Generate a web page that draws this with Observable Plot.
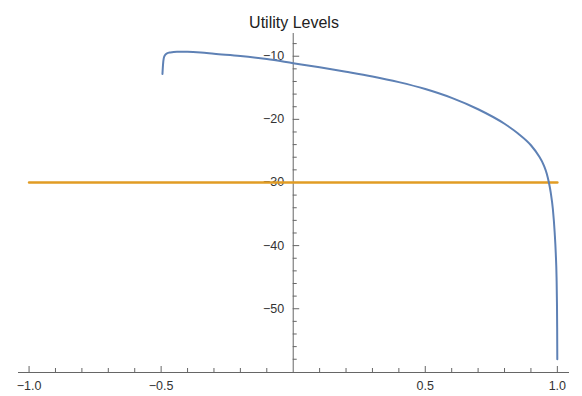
<!DOCTYPE html>
<html>
<head>
<meta charset="utf-8">
<script src="https://cdn.jsdelivr.net/npm/d3@7"></script>
<script src="https://cdn.jsdelivr.net/npm/@observablehq/plot@0.6"></script>
<style>
  html, body { margin: 0; padding: 0; background: #fff; }
  #chart svg { display: block; }
</style>
</head>
<body>
<div id="chart"></div>
<script>
// Utility curve
const curveX = [-0.495, -0.493, -0.49, -0.485, -0.478, -0.465, -0.44, -0.4, -0.35, -0.3, -0.2, -0.1, 0, 0.1, 0.2, 0.3, 0.4, 0.5, 0.6, 0.7, 0.8, 0.85, 0.9, 0.93, 0.95, 0.96, 0.968, 0.975, 0.983, 0.99, 0.994, 0.997, 0.9985, 0.9993, 0.9998];
const curveY = [-12.8, -11.4, -10.3, -9.8, -9.55, -9.4, -9.3, -9.3, -9.4, -9.6, -9.95, -10.45, -11.1, -11.75, -12.45, -13.2, -14.1, -15.2, -16.6, -18.4, -20.7, -22.2, -24.1, -25.8, -27.4, -28.6, -30.0, -31.6, -34.2, -38.0, -41.2, -45.0, -49.0, -53.0, -58.0];

// Constant level line
const levelX = [-1, 1];
const levelY = [-30, -30];

// Axis ticks and labels
const xMajor = [-1, -0.5, 0.5, 1];
const xMajorLabels = ["−1.0", "−0.5", "0.5", "1.0"];
const xMinor = [-0.9, -0.8, -0.7, -0.6, -0.4, -0.3, -0.2, -0.1, 0.1, 0.2, 0.3, 0.4, 0.6, 0.7, 0.8, 0.9];
const yMajor = [-10, -20, -30, -40, -50];
const yMajorLabels = ["−10", "−20", "−30", "−40", "−50"];
const yMinor = [-8, -12, -14, -16, -18, -22, -24, -26, -28, -32, -34, -36, -38, -42, -44, -46, -48, -52, -54, -56, -58];
const title = "Utility Levels";

const xDomain = [-1.04, 1.046];
const yDomain = [-60.1, -6.4];
const yBase = yDomain[0];

const curve = curveX.map((x, i) => ({x, y: curveY[i]}));
const level = levelX.map((x, i) => ({x, y: levelY[i]}));
const axisColor = "#666";

const chart = Plot.plot({
  width: 582,
  height: 396,
  marginLeft: 18,
  marginRight: 13,
  marginTop: 33,
  marginBottom: 24,
  x: {domain: xDomain, axis: null},
  y: {domain: yDomain, axis: null},
  style: {fontFamily: "'Liberation Sans', Arial, sans-serif", fontSize: "12.5px", color: "#333", background: "#fff"},
  marks: [
    // axes lines
    Plot.ruleY([yBase], {stroke: axisColor, strokeWidth: 1}),
    Plot.ruleX([0], {stroke: axisColor, strokeWidth: 1}),
    // x ticks (pointing up)
    Plot.ruleX(xMajor, {x: d => d, y1: yBase, y2: yBase, insetTop: -6, stroke: axisColor}),
    Plot.ruleX(xMinor, {x: d => d, y1: yBase, y2: yBase, insetTop: -4, stroke: axisColor}),
    // y ticks (pointing right)
    Plot.ruleY(yMajor, {y: d => d, x1: 0, x2: 0, insetRight: -6.5, stroke: axisColor}),
    Plot.ruleY(yMinor, {y: d => d, x1: 0, x2: 0, insetRight: -4, stroke: axisColor}),
    // tick labels
    Plot.text(xMajor, {x: d => d, y: yBase, text: (d, i) => xMajorLabels[i], dy: 13, fill: "#333"}),
    Plot.text(yMajor, {x: 0, y: d => d, text: (d, i) => yMajorLabels[i], dx: -9, textAnchor: "end", fill: "#333"}),
    // data
    Plot.line(level, {x: "x", y: "y", stroke: "#E19C24", strokeWidth: 2.5}),
    Plot.line(curve, {x: "x", y: "y", stroke: "#5E81B5", strokeWidth: 2, curve: "monotone-x"}),
    // title
    Plot.text([title], {frameAnchor: "top", text: d => d, dy: -17, fontSize: 16, fill: "#222"})
  ]
});
document.getElementById("chart").appendChild(chart);
</script>
</body>
</html>
